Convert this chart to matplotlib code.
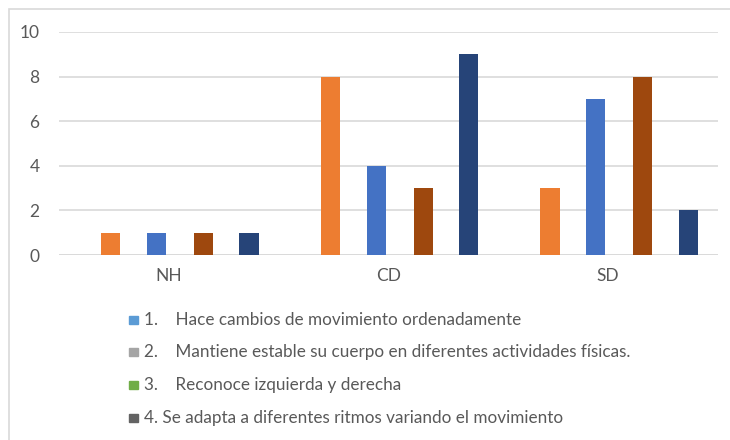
import matplotlib.pyplot as plt
import numpy as np
from matplotlib.patches import Rectangle

plt.rcParams["font.family"] = ["Lato", "DejaVu Sans"]

categories = ["NH", "CD", "SD"]
serie_1 = [1, 8, 3]
serie_2 = [1, 4, 7]
serie_3 = [1, 3, 8]
serie_4 = [1, 9, 2]
bar_colors = ["#ED7D31", "#4472C4", "#9E480E", "#264478"]

legend_labels = [
    "1.    Hace cambios de movimiento ordenadamente",
    "2.    Mantiene estable su cuerpo en diferentes actividades físicas.",
    "3.    Reconoce izquierda y derecha",
    "4. Se adapta a diferentes ritmos variando el movimiento",
]
legend_colors = ["#5B9BD5", "#A5A5A5", "#70AD47", "#636363"]

fig = plt.figure(figsize=(7.3, 4.4), dpi=100)
ax = fig.add_axes([59 / 730, 1 - 255 / 440, 659 / 730, 223 / 440])

x = np.arange(len(categories))
# bars sit off-centre in each group (as in the source chart)
offsets = [-0.265, -0.056, 0.158, 0.365]
width = 0.087
for vals, off, col in zip([serie_1, serie_2, serie_3, serie_4], offsets, bar_colors):
    ax.bar(x + off, vals, width=width, color=col, zorder=3)

ax.set_xlim(-0.5, 2.5)
ax.set_ylim(0, 10)
ax.set_yticks(range(0, 11, 2))
ax.set_xticks(x)
ax.set_xticklabels(categories)
ax.yaxis.grid(True, color="#D9D9D9", linewidth=1.2, zorder=0)
for s in ax.spines.values():
    s.set_visible(False)
ax.axhline(0, color="#D9D9D9", linewidth=1.2, zorder=2)
ax.tick_params(length=0, labelsize=12.5, labelcolor="#595959")
ax.tick_params(axis="y", pad=14)
ax.tick_params(axis="x", pad=9)

# legend, drawn by hand (colors differ from bars, as in the source)
ys = [320, 352, 385, 418]
for lab, col, yy in zip(legend_labels, legend_colors, ys):
    fig.patches.append(Rectangle((129 / 730, 1 - (yy + 4) / 440), 8.5 / 730, 8.5 / 440,
                                 transform=fig.transFigure, color=col))
    fig.text(144 / 730, 1 - yy / 440, lab, fontsize=12.3, color="#595959", va="center")

# outer chart border
fig.patches.append(Rectangle((9 / 730, -0.05), 1.1, 1 - 9 / 440 + 0.05,
                             transform=fig.transFigure, fill=False,
                             edgecolor="#D9D9D9", linewidth=1.2))

fig.savefig("out.png", dpi=100)
